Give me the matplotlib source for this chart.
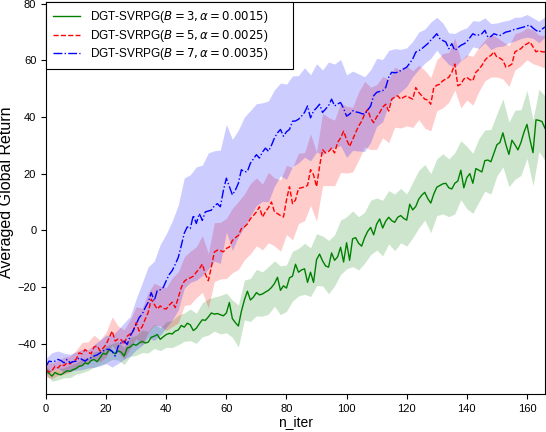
import numpy as np
import matplotlib
matplotlib.use("Agg")
import matplotlib.pyplot as plt

iters = np.arange(0, 167)
band_iters = iters[::2]

green_mean = [-49.5, -50.5, -51.5, -50.2, -50.8, -51.0, -50.3, -49.6, -49.8, -49.2,
              -48.8, -48.0, -47.8, -46.8, -47.2, -46.0, -45.6, -46.4, -45.0, -43.4,
              -43.8, -42.2, -42.8, -43.6, -42.6, -43.0, -44.4, -41.6, -41.2, -40.2,
              -40.6, -39.8, -39.2, -39.8, -39.5, -37.8, -37.4, -36.8, -38.5, -37.6,
              -36.8, -36.4, -36.6, -35.6, -35.2, -33.6, -34.2, -32.8, -33.4, -35.4,
              -34.6, -33.0, -31.6, -31.8, -30.6, -29.2, -29.6, -29.4, -29.8, -30.2,
              -29.2, -25.5, -31.2, -32.6, -33.8, -28.6, -24.6, -21.5, -24.6, -23.6,
              -22.0, -22.8, -22.5, -21.8, -21.2, -20.2, -18.8, -16.6, -21.2, -19.6,
              -20.4, -16.8, -16.2, -12.0, -14.8, -14.0, -13.6, -18.4, -14.8, -18.4,
              -10.4, -8.4, -10.8, -12.6, -13.0, -8.0, -10.6, -9.4, -6.0, -11.2,
              -4.4, -10.6, -3.0, -2.6, -4.6, -5.6, -2.6, -0.4, 1.0, -1.6,
              2.2, 4.0, 0.8, 3.2, 4.6, 3.4, 2.8, 4.6, 5.2, 4.2,
              3.6, 9.2, 7.2, 8.4, 11.0, 12.4, 13.4, 11.2, 9.6, 12.8,
              15.2, 15.8, 16.4, 16.6, 15.0, 14.6, 16.6, 17.4, 21.2, 15.0,
              18.6, 20.0, 16.6, 21.8, 21.2, 20.6, 24.6, 24.8, 24.2, 27.2,
              30.2, 31.0, 34.4, 30.2, 26.8, 31.8, 30.2, 28.4, 31.0, 34.6,
              37.4, 32.0, 27.4, 39.0, 38.8, 38.4, 36.0]
green_std = [1.5, 1.8, 2.0, 1.8, 2.2, 2.0, 2.5, 2.3, 2.7, 2.5,
             3.0, 2.8, 3.2, 3.0, 3.4, 3.5, 4.0, 3.8, 4.3, 4.0,
             4.5, 4.8, 5.2, 5.0, 5.6, 5.3, 6.0, 6.4, 6.0, 6.8,
             7.0, 6.6, 7.4, 7.0, 7.6, 8.2, 7.8, 8.4, 8.0, 8.6,
             8.2, 8.8, 8.4, 9.0, 8.6, 9.2, 8.8, 9.4, 9.0, 9.6,
             9.2, 9.8, 9.4, 9.0, 9.6, 9.2, 9.8, 9.4, 10.0, 9.6,
             9.2, 9.8, 10.2, 9.8, 10.4, 10.0, 10.6, 10.2, 10.8, 10.4,
             11.0, 10.6, 11.2, 10.8, 11.4, 11.0, 12.0, 11.4, 12.2, 11.6,
             12.0, 11.6, 11.0, 11.4]

red_mean = [-49.2, -50.0, -49.6, -48.0, -48.6, -47.4, -47.8, -46.8, -47.2, -46.2,
            -45.6, -43.3, -43.6, -42.1, -43.0, -43.6, -41.2, -40.8, -42.6, -41.6,
            -40.3, -38.0, -35.6, -39.1, -38.4, -38.6, -40.3, -37.4, -36.6, -35.6,
            -32.6, -35.6, -34.0, -31.4, -29.0, -24.3, -26.1, -27.8, -26.7, -27.6,
            -27.8, -26.4, -25.4, -27.3, -23.7, -20.2, -18.0, -17.2, -16.8, -16.2,
            -14.8, -13.6, -11.9, -15.4, -17.8, -13.0, -7.7, -7.0, -7.2, -7.6,
            -6.4, -5.9, -3.6, -2.6, -1.8, 0.6, 1.2, 2.2, 4.1, 5.2,
            6.5, 8.3, 4.7, 6.5, 8.0, 10.0, 6.5, 5.9, 5.2, 4.7,
            10.7, 15.4, 9.4, 10.7, 14.8, 15.0, 15.4, 15.8, 21.4, 19.6,
            15.4, 22.5, 28.5, 27.3, 27.8, 29.0, 27.3, 31.0, 32.6, 35.0,
            32.0, 29.6, 32.0, 34.5, 36.8, 38.5, 41.0, 42.7, 39.5, 38.0,
            40.0, 41.5, 43.5, 44.5, 42.1, 46.3, 47.0, 47.5, 46.3, 47.0,
            47.5, 46.8, 46.3, 50.4, 48.7, 47.5, 46.3, 46.0, 44.5, 50.4,
            51.2, 51.6, 52.8, 53.4, 54.0, 55.8, 58.7, 51.0, 51.6, 53.4,
            54.0, 53.2, 52.8, 55.8, 56.8, 58.2, 60.0, 61.2, 61.7, 63.0,
            61.1, 60.8, 60.0, 57.6, 58.0, 58.7, 63.0, 63.6, 64.1, 65.3,
            65.8, 66.5, 64.8, 63.0, 63.5, 63.0, 63.0]
red_std = [2.5, 2.8, 2.6, 3.0, 2.8, 3.2, 4.0, 3.6, 4.2, 3.8,
           4.4, 5.0, 4.6, 5.2, 5.0, 5.6, 6.5, 7.0, 7.4, 7.0,
           7.6, 8.6, 9.0, 8.6, 9.4, 9.0, 10.0, 9.6, 10.4, 10.0,
           10.6, 11.4, 12.0, 11.6, 12.4, 12.0, 11.6, 12.4, 12.0, 12.6,
           12.2, 12.8, 12.4, 12.0, 12.6, 12.2, 12.8, 12.0, 11.6, 12.2,
           11.8, 11.4, 12.0, 11.6, 11.0, 11.4, 10.8, 11.2, 10.6, 10.2,
           10.6, 10.0, 9.6, 10.2, 9.4, 9.0, 9.6, 8.8, 9.2, 8.4,
           8.0, 8.6, 7.8, 7.2, 7.6, 7.0, 6.6, 7.2, 6.4, 6.0,
           5.6, 6.0, 5.4, 5.8]

blue_mean = [-48.0, -46.2, -46.4, -46.2, -45.6, -46.0, -46.8, -45.6, -46.8, -46.4,
             -46.2, -45.0, -45.6, -46.2, -45.4, -45.0, -44.4, -44.0, -43.3, -42.6,
             -42.1, -42.0, -42.7, -44.4, -41.0, -39.7, -39.1, -40.3, -37.4, -35.4,
             -33.2, -30.8, -29.6, -27.3, -25.4, -22.0, -24.9, -21.3, -21.0, -20.2,
             -17.8, -15.6, -14.2, -12.0, -9.6, -5.4, -1.0, 1.2, 0.6, 5.3,
             2.4, 5.9, 3.5, 6.5, 6.8, 7.1, 8.6, 9.4, 8.3, 14.0,
             18.4, 15.4, 12.5, 14.2, 16.6, 21.4, 20.6, 20.8, 23.7, 25.2,
             26.7, 25.5, 27.6, 29.0, 27.9, 30.0, 32.6, 34.4, 35.6, 33.2,
             34.8, 35.6, 38.5, 38.6, 39.2, 40.3, 41.6, 43.9, 39.7, 42.1,
             43.2, 44.5, 41.6, 42.8, 44.0, 46.3, 43.9, 44.6, 45.1, 43.0,
             40.3, 41.0, 42.2, 41.8, 41.6, 41.2, 41.0, 42.4, 43.9, 47.5,
             48.7, 49.0, 49.3, 50.4, 54.0, 55.8, 55.6, 55.8, 56.4, 57.0,
             57.6, 59.0, 60.5, 62.9, 63.4, 64.1, 65.0, 65.9, 67.1, 68.2,
             69.4, 67.7, 67.0, 66.5, 64.1, 65.9, 63.5, 64.4, 65.3, 65.8,
             66.5, 68.0, 69.4, 68.8, 69.0, 69.4, 70.6, 68.2, 68.4, 69.4,
             69.0, 68.8, 69.4, 70.0, 70.2, 70.6, 71.0, 71.2, 71.5, 71.8,
             72.2, 72.4, 71.4, 70.6, 70.0, 71.0, 71.8]
blue_std = [2.8, 3.2, 3.0, 3.4, 3.0, 3.2, 3.6, 3.2, 4.0, 4.6,
            5.0, 5.6, 6.0, 6.4, 7.0, 9.0, 11.0, 12.5, 14.0, 16.0,
            16.5, 17.5, 18.5, 19.5, 19.0, 20.0, 19.5, 20.5, 19.5, 20.0,
            19.0, 19.6, 18.8, 19.4, 18.6, 18.0, 17.4, 17.8, 17.0, 16.4,
            16.8, 16.0, 15.4, 15.8, 15.2, 15.6, 15.0, 15.4, 14.8, 15.2,
            14.6, 14.0, 13.6, 13.2, 12.8, 12.0, 11.0, 9.5, 8.5, 7.5,
            6.8, 6.2, 6.6, 6.0, 6.4, 5.8, 6.2, 5.6, 6.0, 5.4,
            5.0, 4.6, 4.8, 4.4, 4.6, 4.2, 4.4, 4.0, 4.2, 3.8,
            4.0, 3.6, 3.8, 3.6]

labels = [r"DGT-SVRPG($B=3,\alpha=0.0015$)",
          r"DGT-SVRPG($B=5,\alpha=0.0025$)",
          r"DGT-SVRPG($B=7,\alpha=0.0035$)"]

plt.rcParams['font.family'] = ['Liberation Sans', 'DejaVu Sans']
plt.rcParams['font.size'] = 8
plt.rcParams['mathtext.fontset'] = 'dejavusans'

fig = plt.figure(figsize=(5.46, 4.32), dpi=100)
ax = fig.add_axes([46/546, 1-394/432, (545-46)/546, (394-2)/432])

series = [
    (green_mean, green_std, 'green', '-', labels[0]),
    (red_mean, red_std, 'red', '--', labels[1]),
    (blue_mean, blue_std, 'blue', '-.', labels[2]),
]
for mean, std, col, ls, lab in series:
    m = np.array(mean)
    s = np.array(std)
    ax.plot(iters, m, color=col, linestyle=ls, linewidth=1.0, label=lab)
    mb = m[::2]
    ax.fill_between(band_iters, mb - s, mb + s, color=col, alpha=0.2, linewidth=0)

ax.set_xlim(0, 166)
ax.set_ylim(-57.8, 80.6)
ax.set_xticks([0, 20, 40, 60, 80, 100, 120, 140, 160])
ax.set_yticks([-40, -20, 0, 20, 40, 60, 80])
ax.set_xlabel("n_iter", fontsize=10, labelpad=1)
ax.set_ylabel("Averaged Global Return", fontsize=11.5)
ax.yaxis.set_label_coords(-0.064, 0.515)
ax.tick_params(labelsize=8)
leg = ax.legend(loc='upper left', bbox_to_anchor=(0.0, 1.0, 0.495, 0.0),
                mode='expand', fancybox=False, framealpha=1.0,
                edgecolor='black', borderaxespad=0.0, fontsize=8.5,
                handlelength=2.3, labelspacing=0.22, borderpad=0.6,
                handletextpad=0.8)
leg.get_frame().set_linewidth(0.8)

fig.savefig("out.png", dpi=100)
